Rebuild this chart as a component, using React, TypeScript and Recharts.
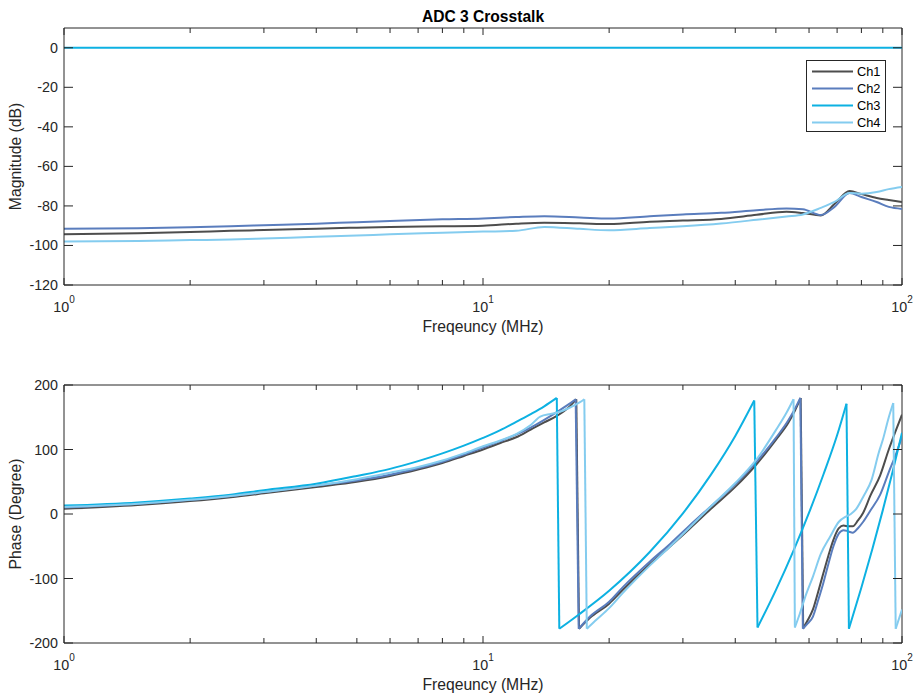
import React from "react";
import { LineChart, Line, XAxis, YAxis, Label, Legend, ReferenceLine } from "recharts";

const AXIS = "#262626";
const FONT = "'Liberation Sans', Arial, Helvetica, sans-serif";

// series names and colours
const SERIES = ["Ch1", "Ch2", "Ch3", "Ch4"];
const COLORS = ["#4d4d4d", "#5a7dbd", "#0db1e2", "#84ccef"];

// ticks
const X_TICKS = [1, 2, 3, 4, 5, 6, 7, 8, 9, 10, 20, 30, 40, 50, 60, 70, 80, 90, 100];
const MAG_TICKS = [-120, -100, -80, -60, -40, -20, 0];
const PHASE_TICKS = [-200, -100, 0, 100, 200];

// magnitude (dB)
const MAG_FREQ = [1, 1.5, 2, 2.5, 3, 4, 5, 6, 8, 10, 12, 14, 17, 20, 25, 30, 37, 45, 53, 58, 64, 69, 75, 80, 87, 93, 100];
const MAG_CH1 = [-94.3, -93.8, -93.2, -92.6, -92.2, -91.5, -91, -90.6, -90.3, -90, -89, -88.5, -88.8, -89.2, -88, -87.4, -86.6, -84.5, -82.9, -83.6, -84.8, -79, -72.5, -74, -76, -77, -78];
const MAG_CH2 = [-91.6, -91.3, -90.8, -90.3, -89.8, -89, -88.2, -87.6, -86.8, -86.3, -85.6, -85.2, -85.8, -86.4, -85.2, -84.3, -83.5, -82.2, -81.3, -81.7, -84.6, -80.5, -73.5, -75.5, -78, -80.5, -81.5];
const MAG_CH3 = [0, 0, 0, 0, 0, 0, 0, 0, 0, 0, 0, 0, 0, 0, 0, 0, 0, 0, 0, 0, 0, 0, 0, 0, 0, 0, 0];
const MAG_CH4 = [-98, -97.8, -97.3, -97, -96.5, -95.6, -95, -94.3, -93.6, -93, -92.6, -90.6, -91.6, -92.3, -91.2, -90.3, -88.9, -87, -85.3, -84.3, -81, -78, -73.4, -73.8, -73, -71.5, -70.4];

// phase (degree); each channel has its own wrap points
const PH_CH1_F = [1, 1.5, 2, 2.5, 3, 4, 5, 6, 7, 8, 9, 10, 11, 12, 13, 14, 15, 16, 16.7, 16.95, 18, 20, 21.6, 25, 28, 31, 35, 40, 44.8, 50, 53.5, 55.5, 57.3, 58.1, 59.5, 61.3, 63, 64.9, 66.7, 68.6, 70.7, 72.5, 74.5, 76.3, 78.5, 80.8, 84, 88.7, 93, 97, 100];
const PH_CH1 = [8, 14, 20, 26, 32, 42, 50, 59, 69, 79, 90, 100, 110, 119, 131, 142, 152, 165, 178, -178, -161, -139, -117, -78, -50, -24, 8, 42, 76, 115, 141, 160, 180, -177, -165, -148, -122, -92, -65, -40, -22, -18, -19, -19, -10, 2, 28, 60, 100, 132, 154];

const PH_CH2_F = [1, 1.5, 2, 2.5, 3, 4, 5, 6, 7, 8, 9, 10, 11, 12, 13, 14, 15, 16, 16.64, 16.92, 18, 20, 21.6, 25, 28, 31, 35, 40, 44.8, 50, 53.5, 55.5, 57.2, 58.0, 59.5, 61.3, 63, 64.9, 66.7, 68.6, 70.7, 72.5, 74.5, 76.3, 78.5, 80.8, 84, 88.7, 93, 97, 100];
const PH_CH2 = [10, 16, 22, 28, 34, 44, 52, 61, 71, 81, 92, 103, 113, 123, 134, 146, 158, 170, 178, -178, -159, -136, -113, -74, -46, -19, 12, 46, 80, 118, 145, 163, 180, -178, -170, -159, -135, -107, -78, -50, -30, -25, -27, -29, -22, -12, 5, 30, 65, 95, 120];

const PH_CH3_F = [1, 1.5, 2, 2.5, 3, 4, 5, 6, 7, 8, 9, 10, 11, 12, 13, 14, 15.0, 15.21, 17, 20, 25, 30, 35, 40, 44.4, 45.2, 50, 55, 60, 65, 70, 73.7, 74.7, 80, 85, 90, 95, 100];
const PH_CH3 = [13, 18, 24, 30, 37, 47, 59, 70, 82, 94, 106, 118, 130, 143, 155, 167, 180, -178, -155, -119, -59, 1, 61, 121, 176, -176, -118, -58, 2, 62, 122, 171, -178, -114, -54, 6, 66, 126];

const PH_CH4_F = [1, 1.5, 2, 2.5, 3, 4, 5, 6, 7, 8, 9, 10, 11, 12, 13, 13.7, 14.5, 15, 16, 17, 17.45, 17.69, 18.5, 20, 21.6, 25, 28, 31, 35, 40, 45, 50, 53, 55.1, 55.5, 57, 59, 61.3, 64, 67.4, 70.7, 73.5, 75.5, 77.6, 81, 84.6, 88, 90, 93, 95.3, 96.6, 100];
const PH_CH4 = [11, 16, 22, 28, 34, 44, 54, 64, 73, 83, 94, 105, 114, 124, 138, 151, 155, 157, 164, 173, 178, -178, -166, -146, -122, -80, -50, -22, 12, 48, 85, 130, 157, 178, -176, -155, -125, -97, -62, -35, -12, -4, 0, 7, 28, 53, 95, 115, 150, 172, -178, -148];

const magData = MAG_FREQ.map((f, i) => ({
  f,
  Ch1: MAG_CH1[i],
  Ch2: MAG_CH2[i],
  Ch3: MAG_CH3[i],
  Ch4: MAG_CH4[i],
}));

type Pt = { f: number; v: number };
const zip = (fs: number[], vs: number[]): Pt[] => fs.map((f, i) => ({ f, v: vs[i] }));

// split a wrapped phase trace into smooth runs and the straight drops between them
const splitWraps = (pts: Pt[]) => {
  const runs: Pt[][] = [[pts[0]]];
  const drops: Pt[][] = [];
  for (let i = 1; i < pts.length; i++) {
    if (pts[i].v < pts[i - 1].v - 180) {
      drops.push([pts[i - 1], pts[i]]);
      runs.push([pts[i]]);
    } else {
      runs[runs.length - 1].push(pts[i]);
    }
  }
  return { runs, drops };
};

const phaseData = [zip(PH_CH1_F, PH_CH1), zip(PH_CH2_F, PH_CH2), zip(PH_CH3_F, PH_CH3), zip(PH_CH4_F, PH_CH4)].map(splitWraps);

const XTick = (props: any) => {
  const { x, payload, top, bottom } = props;
  const exp = Math.log10(payload.value);
  const major = Math.abs(exp - Math.round(exp)) < 1e-6;
  const len = major ? 7 : 5;
  return (
    <g>
      <line x1={x} x2={x} y1={bottom} y2={bottom - len} stroke={AXIS} />
      <line x1={x} x2={x} y1={top} y2={top + len} stroke={AXIS} />
      {major && (
        <text x={x} y={bottom + 26.5} textAnchor="middle" fontSize={14.3} fill={AXIS} fontFamily={FONT}>
          10
          <tspan dy={-8.5} fontSize={10}>
            {Math.round(exp)}
          </tspan>
        </text>
      )}
    </g>
  );
};

const YTick = (props: any) => {
  const { y, payload, left, right } = props;
  return (
    <g>
      <line x1={left} x2={left + 9} y1={y} y2={y} stroke={AXIS} />
      <line x1={right} x2={right - 9} y1={y} y2={y} stroke={AXIS} />
      <text x={left - 6} y={y} dy={5} textAnchor="end" fontSize={14.3} fill={AXIS} fontFamily={FONT}>
        {payload.value}
      </text>
    </g>
  );
};

const xTitle = (props: any) => {
  const vb = props.viewBox;
  return (
    <text x={vb.x + vb.width / 2} y={vb.y + 46.5} textAnchor="middle" fontSize={15.7} fill={AXIS} fontFamily={FONT}>
      Freqeuncy (MHz)
    </text>
  );
};

const yTitle = (text: string) => (props: any) => {
  const vb = props.viewBox;
  const cx = vb.x + 13;
  const cy = vb.y + vb.height / 2;
  return (
    <text x={cx} y={cy} transform={`rotate(-90, ${cx}, ${cy})`} textAnchor="middle" fontSize={15.7} fill={AXIS} fontFamily={FONT}>
      {text}
    </text>
  );
};

const chartTitle = (props: any) => {
  const vb = props.viewBox;
  return (
    <text x={vb.x + vb.width / 2} y={vb.y - 6.3} textAnchor="middle" fontSize={15.6} fontWeight="bold" fill="#000" fontFamily={FONT}>
      ADC 3 Crosstalk
    </text>
  );
};

const LegendBox = (props: any) => (
  <div
    style={{
      width: 80,
      height: 72,
      boxSizing: "border-box",
      border: `1px solid ${AXIS}`,
      background: "#fff",
      paddingTop: 2,
    }}
  >
    {(props.payload || []).map((p: any) => (
      <div key={p.value} style={{ display: "flex", alignItems: "center", height: 17 }}>
        <svg width={46} height={17} style={{ display: "block" }}>
          <line x1={5} x2={46} y1={8.5} y2={8.5} stroke={p.color} strokeWidth={2} />
        </svg>
        <span style={{ marginLeft: 4, fontSize: 12.8, lineHeight: "17px", color: "#000", fontFamily: FONT }}>{p.value}</span>
      </div>
    ))}
  </div>
);

const App = () => {
  return (
    <div style={{ position: "absolute", left: 0, top: 0, width: 916, height: 698, background: "#fff", fontFamily: FONT }}>
      <div style={{ position: "absolute", left: 0, top: 0 }}>
        <LineChart width={916} height={345} data={magData} margin={{ top: 28, right: 14, bottom: 20, left: 8 }}>
          <XAxis
            dataKey="f"
            type="number"
            scale="log"
            domain={[1, 100]}
            allowDataOverflow
            ticks={X_TICKS}
            interval={0}
            height={40}
            tickLine={false}
            axisLine={{ stroke: AXIS }}
            tick={<XTick top={28} bottom={285} />}
          >
            <Label content={xTitle} />
          </XAxis>
          <YAxis
            type="number"
            domain={[-120, 10]}
            allowDataOverflow
            ticks={MAG_TICKS}
            interval={0}
            width={56}
            tickLine={false}
            axisLine={{ stroke: AXIS }}
            tick={<YTick left={64} right={902} />}
          >
            <Label content={yTitle("Magnitude (dB)")} />
          </YAxis>
          <ReferenceLine y={10} stroke={AXIS} ifOverflow="visible">
            <Label content={chartTitle} />
          </ReferenceLine>
          <ReferenceLine x={100} stroke={AXIS} ifOverflow="visible" />
          {SERIES.map((s, i) => (
            <Line
              key={s}
              type="monotone"
              dataKey={s}
              name={s}
              stroke={COLORS[i]}
              strokeWidth={2}
              dot={false}
              activeDot={false}
              isAnimationActive={false}
            />
          ))}
          <Legend
            layout="vertical"
            align="center"
            verticalAlign="middle"
            content={<LegendBox />}
            wrapperStyle={{ left: 806, top: 60, width: 80, height: 72 }}
          />
        </LineChart>
      </div>
      <div style={{ position: "absolute", left: 0, top: 345 }}>
        <LineChart width={916} height={353} margin={{ top: 40, right: 14, bottom: 15, left: 8 }}>
          <XAxis
            dataKey="f"
            type="number"
            scale="log"
            domain={[1, 100]}
            allowDataOverflow
            ticks={X_TICKS}
            interval={0}
            height={40}
            tickLine={false}
            axisLine={{ stroke: AXIS }}
            tick={<XTick top={40} bottom={298} />}
          >
            <Label content={xTitle} />
          </XAxis>
          <YAxis
            type="number"
            domain={[-200, 200]}
            allowDataOverflow
            ticks={PHASE_TICKS}
            interval={0}
            width={56}
            tickLine={false}
            axisLine={{ stroke: AXIS }}
            tick={<YTick left={64} right={902} />}
          >
            <Label content={yTitle("Phase (Degree)")} />
          </YAxis>
          <ReferenceLine y={200} stroke={AXIS} ifOverflow="visible" />
          <ReferenceLine x={100} stroke={AXIS} ifOverflow="visible" />
          {SERIES.map((s, i) => [
            ...phaseData[i].runs.map((run, j) => (
              <Line
                key={`${s}-run-${j}`}
                data={run}
                type="monotone"
                dataKey="v"
                name={s}
                stroke={COLORS[i]}
                strokeWidth={2}
                strokeLinejoin="miter"
                dot={false}
                activeDot={false}
                isAnimationActive={false}
              />
            )),
            ...phaseData[i].drops.map((drop, j) => (
              <Line
                key={`${s}-drop-${j}`}
                data={drop}
                type="linear"
                dataKey="v"
                name={s}
                stroke={COLORS[i]}
                strokeWidth={2}
                dot={false}
                activeDot={false}
                isAnimationActive={false}
              />
            )),
          ])}
        </LineChart>
      </div>
    </div>
  );
};

export default App;
